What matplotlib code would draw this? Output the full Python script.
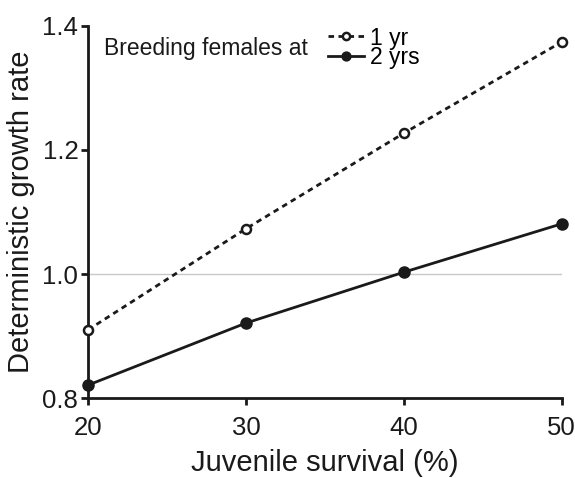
import matplotlib.pyplot as plt

plt.rcParams['font.family'] = ['Liberation Sans', 'DejaVu Sans']

survival = [20, 30, 40, 50]
rate_1yr = [0.910, 1.073, 1.227, 1.374]
rate_2yrs = [0.821, 0.921, 1.003, 1.081]

fig = plt.figure(figsize=(5.75, 4.78), dpi=100)
ax = fig.add_axes([0.153, 0.167, 0.824, 0.779])

ax.axhline(1.0, color='#c8c8c8', lw=1, zorder=0)
l1, = ax.plot(survival, rate_1yr, ls=(0, (2.0, 1.6)), color='#1a1a1a', lw=2,
              marker='o', ms=6.5, mfc='white', mew=1.8, clip_on=False, zorder=3)
l2, = ax.plot(survival, rate_2yrs, ls='-', color='#1a1a1a', lw=2,
              marker='o', ms=8, mfc='#1a1a1a', clip_on=False, zorder=3)

ax.set_xlim(20, 50)
ax.set_ylim(0.8, 1.4)
ax.set_xticks([20, 30, 40, 50])
ax.set_yticks([0.8, 1.0, 1.2, 1.4])
ax.set_yticklabels(['0.8', '1.0', '1.2', '1.4'])
for s in ['top', 'right']:
    ax.spines[s].set_visible(False)
for s in ['left', 'bottom']:
    ax.spines[s].set_linewidth(2)
    ax.spines[s].set_color('#1a1a1a')
ax.tick_params(direction='out', length=5, width=2, labelsize=18.5, color='#1a1a1a',
               labelcolor='#1a1a1a', pad=2)
ax.tick_params(axis='x', pad=8)
ax.set_xlabel('Juvenile survival (%)', fontsize=21, color='#1a1a1a', labelpad=6)
ax.set_ylabel('Deterministic growth rate', fontsize=21, color='#1a1a1a', labelpad=5)

ax.text(0.033, 0.94, 'Breeding females at', transform=ax.transAxes, fontsize=16.5,
        color='#1a1a1a', va='center')
ax.legend([l1, l2], ['1 yr', '2 yrs'], loc='center left', bbox_to_anchor=(0.506, 0.941),
          frameon=False, fontsize=16.5, handlelength=1.6, handletextpad=0.25,
          labelspacing=-0.15, borderaxespad=0, borderpad=0, markerscale=0.8)

plt.savefig('out.png', dpi=100)
